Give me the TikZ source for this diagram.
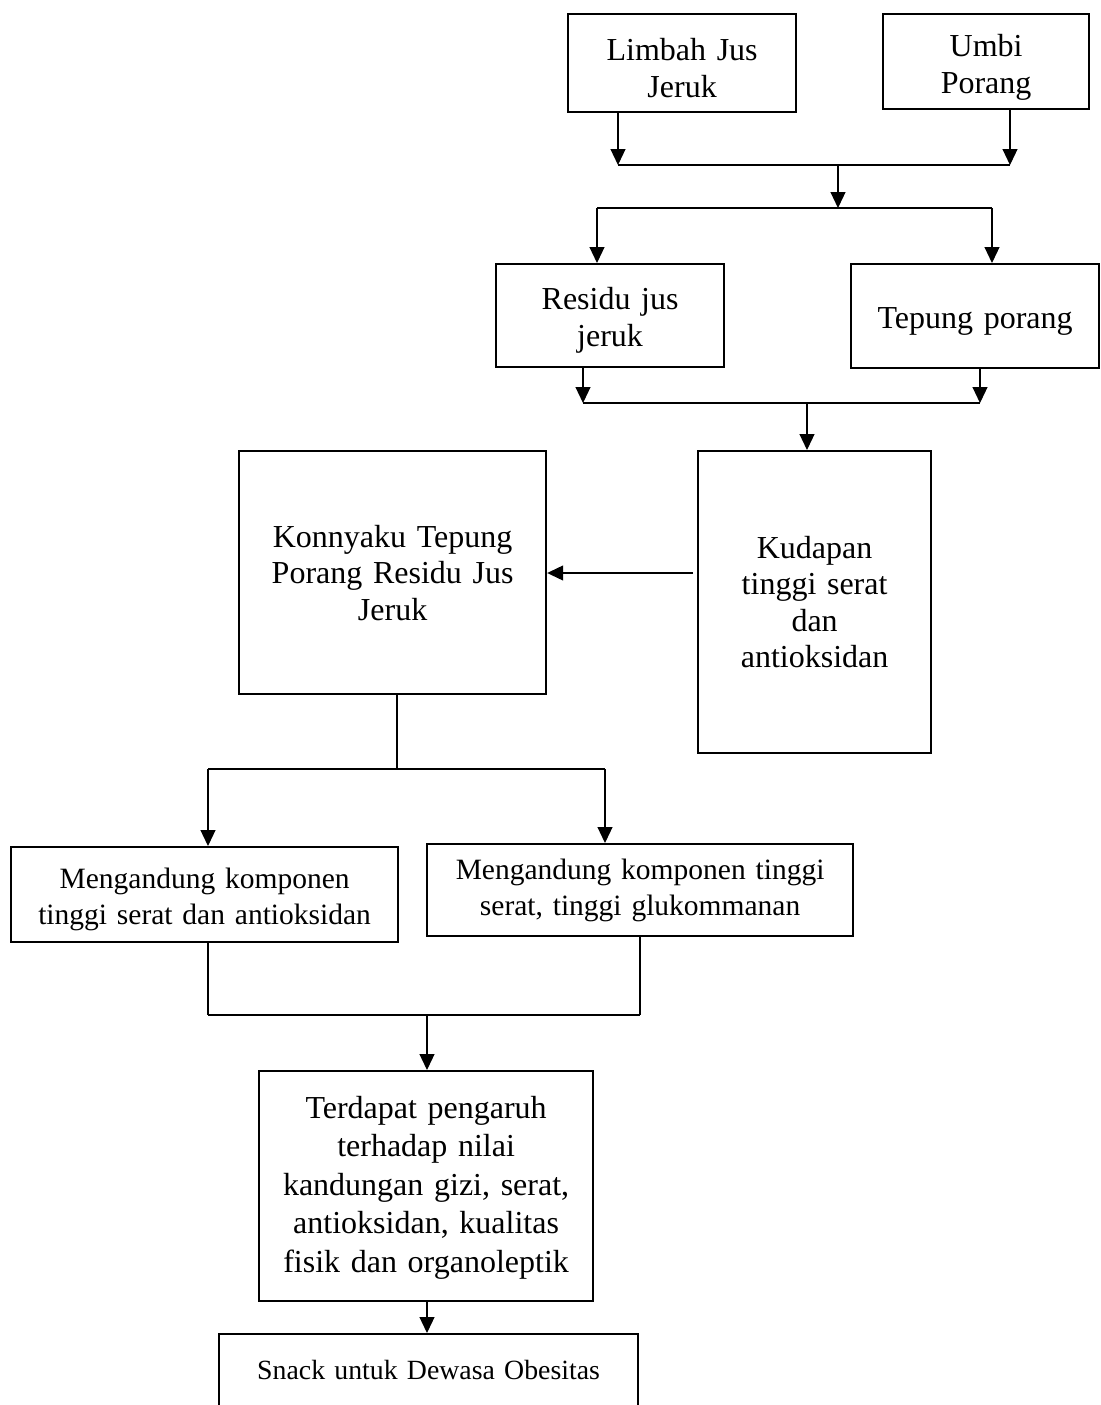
\documentclass[tikz,border=0pt]{standalone}
\usepackage{fontspec}
\setmainfont[WordSpace=0.8]{Liberation Serif}
\usetikzlibrary{arrows.meta}
\newcommand\dnA{\rule{0pt}{32pt}}
\newcommand\dnB{\rule{0pt}{30.5pt}}
\tikzset{
  box/.style={draw, line width=2.2pt, align=center, inner xsep=0pt, inner ysep=0pt, anchor=north west, font=\fontsize{32}{36.5}\selectfont},
  smallbox/.style={box, font=\fontsize{29.5}{36}\selectfont},
  tinybox/.style={box, font=\fontsize{27.8}{34}\selectfont},
  conn/.style={line width=1.2pt},
  arr/.style={conn, -{Triangle[length=16pt,width=15pt]}}
}
\begin{document}
\begin{tikzpicture}[x=1pt,y=-1pt]
\useasboundingbox (0,0) rectangle (1100,1405);
% boxes
\node[box, minimum width=228, minimum height=98, text width=228pt] (limbah) at (567,13) {\dnA Limbah Jus\\Jeruk};
\node[box, minimum width=206, minimum height=95, text width=206pt] (umbi) at (882,13) {\rule{0pt}{34pt}Umbi\\Porang};
\node[box, minimum width=228, minimum height=103, text width=228pt] (residu) at (495,263) {\dnA Residu jus\\jeruk};
\node[box, minimum width=248, minimum height=104, text width=248pt] (tepung) at (850,263) {\rule{0pt}{32pt}Tepung porang};
\node[box, minimum width=307, minimum height=243, text width=307pt] (konnyaku) at (238,450) {Konnyaku Tepung\\Porang Residu Jus\\Jeruk};
\node[box, minimum width=233, minimum height=302, text width=233pt] (kudapan) at (697,450) {Kudapan\\tinggi serat\\dan\\antioksidan};
\node[smallbox, minimum width=387, minimum height=95, text width=387pt] (m1) at (10,846) {\dnB Mengandung komponen\\tinggi serat dan antioksidan};
\node[smallbox, minimum width=426, minimum height=92, text width=426pt] (m2) at (426,843) {Mengandung komponen tinggi\\serat, tinggi glukommanan};
\node[box, minimum width=334, minimum height=230, text width=334pt, font=\fontsize{32}{38.5}\selectfont] (terdapat) at (258,1070) {\rule{0pt}{25pt}Terdapat pengaruh\\terhadap nilai\\kandungan gizi, serat,\\antioksidan, kualitas\\fisik dan organoleptik};
\node[tinybox, minimum width=419, minimum height=72, text width=419pt] (snack) at (218,1333) {Snack untuk Dewasa Obesitas};
% junctions
\coordinate (j1l) at (618,165);
\coordinate (j1r) at (1010,165);
\coordinate (j1m) at (838,165);
\coordinate (j2m) at (838,208);
\coordinate (j2l) at (597,208);
\coordinate (j2r) at (992,208);
\coordinate (j3l) at (583,403);
\coordinate (j3r) at (980,403);
\coordinate (j3m) at (807,403);
\coordinate (k) at (693,573);
\coordinate (j4m) at (397,769);
\coordinate (j4l) at (208,769);
\coordinate (j4r) at (605,769);
\coordinate (j5l) at (208,1015);
\coordinate (j5r) at (640,1015);
\coordinate (j5m) at (427,1015);
% connectors
\draw[arr] (limbah.south -| j1l) -- (j1l);
\draw[arr] (umbi.south -| j1r) -- (j1r);
\draw[conn] (j1l) -- (j1r);
\draw[arr] (j1m) -- (j2m);
\draw[conn] (j2l) -- (j2r);
\draw[arr] (j2l) -- (j2l |- residu.north);
\draw[arr] (j2r) -- (j2r |- tepung.north);
\draw[arr] (residu.south -| j3l) -- (j3l);
\draw[arr] (tepung.south -| j3r) -- (j3r);
\draw[conn] (j3l) -- (j3r);
\draw[arr] (j3m) -- (j3m |- kudapan.north);
\draw[arr] (k) -- (k -| konnyaku.east);
\draw[conn] (konnyaku.south -| j4m) -- (j4m);
\draw[conn] (j4l) -- (j4r);
\draw[arr] (j4l) -- (j4l |- m1.north);
\draw[arr] (j4r) -- (j4r |- m2.north);
\draw[conn] (m1.south -| j5l) -- (j5l);
\draw[conn] (m2.south -| j5r) -- (j5r);
\draw[conn] (j5l) -- (j5r);
\draw[arr] (j5m) -- (j5m |- terdapat.north);
\draw[arr] (terdapat.south -| j5m) -- (j5m |- snack.north);
\end{tikzpicture}
\end{document}
